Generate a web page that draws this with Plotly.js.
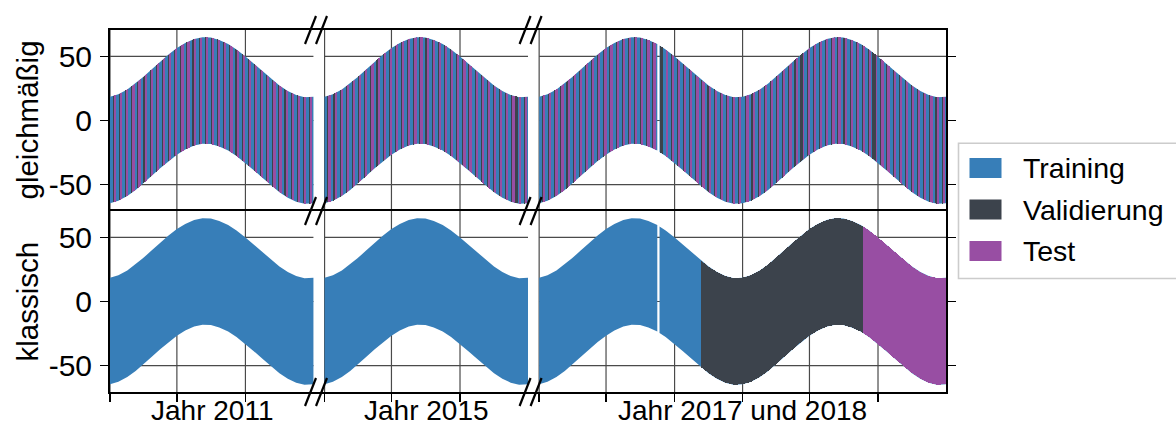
<!DOCTYPE html>
<html>
<head>
<meta charset="utf-8">
<script src="https://cdn.plot.ly/plotly-3.0.1.min.js"></script>
<style>
html, body { margin: 0; padding: 0; background: #ffffff; }
#chart { width: 1176px; height: 427px; }
</style>
</head>
<body>
<div id="chart"></div>
<script>
// ======================= DATA =======================
const categories     = ['Training', 'Validierung', 'Test'];
const categoryCodes  = ['T', 'V', 'E'];
const categoryColors = ['#377eb8', '#3c434c', '#984ea3'];

const rowLabels   = ['gleichmäßig', 'klassisch'];
const panelLabels = ['Jahr 2011', 'Jahr 2015', 'Jahr 2017 und 2018'];
const years       = [2011, 2015, 2017, 2018];
const yearPanel   = [0, 1, 2, 2];

const yTickVals = [-50, 0, 50];
const yTickText = ['-50', '0', '50'];
const monthTickDays = [0, 120, 243];      // 1. Jan, 1. Mai, 1. Sep

// daily range of the values (read at the 1st and 16th of each month)
const envDay = [0, 15, 31, 46, 59, 74, 90, 105, 120, 135, 151, 166, 181, 196, 212, 227, 243, 258, 273, 288, 304, 319, 334, 349, 365];
const envMax = [18.5, 20.4, 24.2, 28.9, 33.6, 39.5, 45.8, 51.4, 56.4, 60.4, 63.5, 64.8, 64.6, 62.8, 59.6, 55.3, 49.9, 44.3, 38.5, 32.7, 27.2, 22.9, 19.8, 18.2, 18.4];
const envMin = [-64.5, -62.6, -58.8, -54.1, -49.4, -43.5, -37.2, -31.6, -26.6, -22.6, -19.5, -18.2, -18.4, -20.2, -23.4, -27.7, -33.1, -38.7, -44.5, -50.3, -55.8, -60.1, -63.2, -64.8, -64.6];

// "gleichmäßig" split: one letter per day (T = Training, V = Validierung, E = Test, . = keine Daten)
const gleichmaessig2011 = `
TTTTTVVEEEE TTTTTVVEEEE TTTTTVVEEEE TTTTTVVEEEE TTTTTVVEEEE TTTTTVVEEEE TTTTTVVEEEE TTTTTVVEEEE TTTTTVVEEEE TTTTTVVEEEE
TTTTTVVEEEE TTTTTVVEEEE TTTTTVVEEEE TTTTTVVEEEE TTTTTVVEEEE TTTTTVVEEEE TTTTTVVEEEE TTTTTVVEEEE TTTTTVVEEEE TTTTTVVEEEE
TTTTTVVEEEE TTTTTVVEEEE TTTTTVVEEEE TTTTTVVEEEE TTTTTVVEEEE TTTTTVVEEEE TTTTTVVEEEE TTTTTVVEEEE TTTTTVVEEEE TTTTTVVEEEE
TTTTTVVEEEE TTTTTVVEEEE TTTTTVVEEEE TT`;
const gleichmaessig2015 = `
TTTTTVVEEEE TTTTTVVEEEE TTTTTVVEEEE TTTTTVVEEEE TTTTTVVEEEE TTTTTVVEEEE TTTTTVVEEEE TTTTTVVEEEE TTTTTVVEEEE TTTTTVVEEEE
TTTTTVVEEEE TTTTTVVEEEE TTTTTVVEEEE TTTTTVVEEEE TTTTTVVEEEE TTTTTVVEEEE TTTTTVVEEEE TTTTTVVEEEE TTTTTVVEEEE TTTTTVVEEEE
TTTTTVVEEEE TTTTTVVEEEE TTTTTVVEEEE TTTTTVVEEEE TTTTTVVEEEE TTTTTVVEEEE TTTTTVVEEEE TTTTTVVEEEE TTTTTVVEEEE TTTTTVVEEEE
TTTTTVVEEEE VVVVVVTEEEE TTTTTVVEEEE TT`;
const gleichmaessig2017 = `
TTTTTVVEEEE TTTTTVVEEEE TTTTTVVEEEE TTTTTVVEEEE TTTTTVVEEEE TTTTTVVEEEE TTTTTVVEEEE TTTTTVVEEEE TTTTTVVEEEE TTTTTVVEEEE
TTTTTVVEEEE TTTTTVVEEEE TTTTTVVEEEE TTTTTVVEEEE TTTTTVVEEEE TTTTTVVEEEE TTTTTVVEEEE TTTTTVVEEEE TTTTTVVEEEE TTT....VVVV
VVTTTTTEEEE TTTTTVVEEEE TTTTTVVEEEE TTTTTVVEEEE TTTTTVVEEEE TTTTTVVEEEE TTTTTVVEEEE TTTTTVVEEEE TTTTTVVEEEE TTTTTVVEEEE
TTTTTVVEEEE TTTTTVVEEEE TTTTTVVEEEE TT`;
const gleichmaessig2018 = `
TTTTTVVEEEE TTTTTVVEEEE TTTTTVVEEEE TTTTTVVEEEE TTTTTVVEEEE TTTTTVVEEEE TTTTTVVEEEE TTTTTVVEEEE TTTTTVVEEEE TTTTVVVVVVE
TTTTTVVEEEE TTTTTVVEEEE TTTTTVVEEEE TTTTTVVEEEE TTTTTVVEEEE TTTTTVVEEEE TTTTTVVEEEE TTTTTVVEEEE TTTTTVVEEEE TTTTTVVEEEE
TTTTTVVEEEE TTVVVVVVEEE TTTTTVVEEEE TTTTTVVEEEE TTTTTVVEEEE TTTTTVVEEEE TTTTTVVEEEE TTTTTVVEEEE TTTTTVVEEEE TTTTTVVEEEE
TTTTTVVEEEE TTTTTVVEEEE TTTTTVVEEEE TT`;

// "klassisch" split: [Jahr, erster Tag, Tag nach Ende, Kategorie]
const klassischRuns = [
  [2011,   0, 365, 'T'],
  [2015,   0, 365, 'T'],
  [2017,   0, 212, 'T'],
  [2017, 216, 290, 'T'],
  [2017, 290, 365, 'V'],
  [2018,   0, 216, 'V'],
  [2018, 216, 365, 'E']
];

// ======================= GEOMETRY / STYLE =======================
const FIGW = 1176, FIGH = 427;
const ML = 110, MR = 230, MT = 30, MB = 35;
const PW = FIGW - ML - MR, PH = FIGH - MT - MB;
const pxX = p => (p - ML) / PW;
const pxY = p => (FIGH - MB - p) / PH;
const FONT = "'Liberation Sans', Arial, Helvetica, sans-serif";
const GAP = 20;           // days of empty axis between panels
const GRID = '#4a4a4a';
const YR = [-70.5, 70.5];

// panel layout on the shared x axis (unit: days)
const panels = [];
let cursor = 0;
years.forEach((yr, i) => {
  const p = yearPanel[i];
  if (!panels[p]) {
    if (p > 0) cursor += GAP;
    panels[p] = { start: cursor, yearIdx: [] };
  }
  panels[p].yearIdx.push(i);
  cursor += 365;
});
panels.forEach(p => { p.end = p.start + 365 * p.yearIdx.length; });
const xMax = cursor;

function envAt(arr, d) {
  const dd = d - 365 * Math.floor(d / 365);
  for (let j = 0; j < envDay.length - 1; j++) {
    if (dd >= envDay[j] && dd <= envDay[j + 1]) {
      const t = (dd - envDay[j]) / (envDay[j + 1] - envDay[j]);
      return arr[j] + t * (arr[j + 1] - arr[j]);
    }
  }
  return arr[arr.length - 1];
}

function polygon(offset, a, b) {
  const ds = [a];
  for (let k = Math.floor(a / 365); k <= Math.floor(b / 365); k++) {
    envDay.forEach(e => { const d = k * 365 + e; if (d > a && d < b && ds.indexOf(d) < 0) ds.push(d); });
  }
  ds.push(b);
  ds.sort((p, q) => p - q);
  const xs = [], ys = [];
  ds.forEach(d => { xs.push(offset + d); ys.push(envAt(envMax, d)); });
  for (let i = ds.length - 1; i >= 0; i--) { xs.push(offset + ds[i]); ys.push(envAt(envMin, ds[i])); }
  return { xs, ys };
}

// day codes per row and year
const clean = s => s.replace(/\s+/g, '').split('');
const gleichByYear = [gleichmaessig2011, gleichmaessig2015, gleichmaessig2017, gleichmaessig2018].map(clean);
const klassByYear = years.map(() => new Array(365).fill('.'));
klassischRuns.forEach(([yr, a, b, c]) => {
  const i = years.indexOf(yr);
  for (let d = a; d < b; d++) klassByYear[i][d] = c;
});
const rowsByYear = [gleichByYear, klassByYear];

function panelCodes(row, p) {
  let out = [];
  panels[p].yearIdx.forEach(i => {
    const c = rowsByYear[row][i].slice(0, 365);
    while (c.length < 365) c.push('.');
    out = out.concat(c);
  });
  return out;
}

function runsOf(codes, test) {
  const runs = [];
  let a = null;
  for (let d = 0; d <= codes.length; d++) {
    const on = d < codes.length && test(codes[d]);
    if (on && a === null) a = d;
    if (!on && a !== null) { runs.push([a, d]); a = null; }
  }
  return runs;
}

const traces = [];
[0, 1].forEach(row => {
  const xa = row === 0 ? 'x' : 'x2';
  const ya = row === 0 ? 'y' : 'y2';
  const layers = [
    { name: categories[0], color: categoryColors[0], test: c => c !== '.' },
    { name: categories[1], color: categoryColors[1], test: c => c === categoryCodes[1] },
    { name: categories[2], color: categoryColors[2], test: c => c === categoryCodes[2] }
  ];
  layers.forEach(layer => {
    const X = [], Y = [];
    panels.forEach((pan, p) => {
      runsOf(panelCodes(row, p), layer.test).forEach(([a, b]) => {
        const poly = polygon(pan.start, a, b);
        X.push(...poly.xs, null); Y.push(...poly.ys, null);
      });
    });
    traces.push({
      type: 'scatter', mode: 'lines', x: X.length ? X : [null], y: Y.length ? Y : [null], xaxis: xa, yaxis: ya,
      fill: 'toself', fillcolor: layer.color, line: { width: 0, color: layer.color },
      name: layer.name, hoverinfo: 'skip', showlegend: false
    });
  });
});

// tick positions (1 Jan, 1 May, 1 Sep of every year shown)
const xTickVals = [];
panels.forEach(pan => pan.yearIdx.forEach((yi, k) => monthTickDays.forEach(m => xTickVals.push(pan.start + 365 * k + m))));

const shapes = [];
// grid lines (only inside the panels, so the gaps stay white)
[['x', 'y'], ['x2', 'y2']].forEach(([xr, yr]) => {
  panels.forEach(pan => {
    yTickVals.forEach(v => shapes.push({ type: 'line', layer: 'below', xref: xr, yref: yr,
      x0: pan.start, x1: pan.end, y0: v, y1: v, line: { color: GRID, width: 1.2 } }));
  });
  xTickVals.forEach(v => shapes.push({ type: 'line', layer: 'below', xref: xr, yref: yr,
    x0: v, x1: v, y0: YR[0], y1: YR[1], line: { color: GRID, width: 1.2 } }));
});

// break marks "//"
for (let p = 0; p < panels.length - 1; p++) {
  const xc = (panels[p].end + panels[p + 1].start) / 2;
  [1, 0.5, 0].forEach(ya => {
    [[-14, -3], [-3, 8]].forEach(([xa0, xa1]) => {
      shapes.push({ type: 'line', layer: 'above', xref: 'x', yref: 'paper', xsizemode: 'pixel', ysizemode: 'pixel',
                    xanchor: xc, yanchor: ya, x0: xa0, x1: xa1, y0: -14, y1: 14,
                    line: { color: '#000000', width: 2.2 } });
    });
  });
}

// legend (drawn manually)
shapes.push({ type: 'rect', xref: 'paper', yref: 'paper', x0: pxX(958.5), x1: pxX(1185), y0: pxY(278.5), y1: pxY(143.2),
              fillcolor: '#ffffff', line: { color: '#cccccc', width: 1.6 } });
const legendCentersPx = [168, 209.5, 251];
const annotations = [];
categories.forEach((c, i) => {
  const cy = legendCentersPx[i];
  shapes.push({ type: 'rect', xref: 'paper', yref: 'paper', x0: pxX(969.5), x1: pxX(1001.5), y0: pxY(cy + 10), y1: pxY(cy - 10),
                fillcolor: categoryColors[i], line: { width: 0 } });
  annotations.push({ xref: 'paper', yref: 'paper', x: pxX(1021), y: pxY(cy), xanchor: 'left', yanchor: 'middle',
                     text: c, showarrow: false, font: { family: FONT, size: 28.5, color: '#000' } });
});

// panel labels under the x axis
panels.forEach((pan, p) => {
  annotations.push({ xref: 'x2', yref: 'paper', x: (pan.start + pan.end) / 2, y: pxY(410.5),
                     xanchor: 'center', yanchor: 'middle', text: panelLabels[p], showarrow: false,
                     font: { family: FONT, size: 28, color: '#000' } });
});
// row titles
rowLabels.forEach((t, r) => {
  annotations.push({ xref: 'paper', yref: 'paper', x: pxX(27), y: r === 0 ? 0.75 : 0.25, textangle: -90,
                     xanchor: 'center', yanchor: 'middle', text: t, showarrow: false,
                     font: { family: FONT, size: 29.5, color: '#000' } });
});

const xBase = {
  range: [0, xMax], tickmode: 'array', tickvals: xTickVals, showticklabels: false,
  showgrid: false, zeroline: false,
  showline: true, linecolor: '#000', linewidth: 2, fixedrange: true
};
const yBase = {
  range: YR, tickmode: 'array', tickvals: yTickVals, ticktext: yTickText,
  ticks: 'outside', ticklen: 8, tickwidth: 1.5, tickcolor: '#000', ticklabelstandoff: 2,
  showgrid: false, zeroline: false,
  showline: true, linecolor: '#000', linewidth: 2, mirror: 'ticks',
  tickfont: { family: FONT, size: 30, color: '#000' }, fixedrange: true
};

const layout = {
  width: FIGW, height: FIGH,
  margin: { l: ML, r: MR, t: MT, b: MB, pad: 0 },
  paper_bgcolor: '#ffffff', plot_bgcolor: '#ffffff',
  font: { family: FONT, size: 28, color: '#000' },
  showlegend: false,
  xaxis:  Object.assign({}, xBase, { domain: [0, 1], anchor: 'y', side: 'top', mirror: false, ticks: '' }),
  xaxis2: Object.assign({}, xBase, { domain: [0, 1], anchor: 'y2', mirror: true, ticks: 'outside', ticklen: 8, tickwidth: 1.5, tickcolor: '#000' }),
  yaxis:  Object.assign({}, yBase, { domain: [0.5, 1], anchor: 'x' }),
  yaxis2: Object.assign({}, yBase, { domain: [0, 0.5], anchor: 'x2' }),
  shapes: shapes,
  annotations: annotations
};

Plotly.newPlot('chart', traces, layout, { displayModeBar: false, staticPlot: true }).then(gd => {
  // crisp (non-blended) edges for the narrow split stripes
  gd.querySelectorAll('.scatterlayer').forEach(layer => {
    const tr = layer.querySelectorAll(':scope > .trace');
    for (let i = 1; i < tr.length; i++) {
      tr[i].querySelectorAll('path.js-fill').forEach(p => p.style.shapeRendering = 'crispEdges');
    }
  });
});
</script>
</body>
</html>
